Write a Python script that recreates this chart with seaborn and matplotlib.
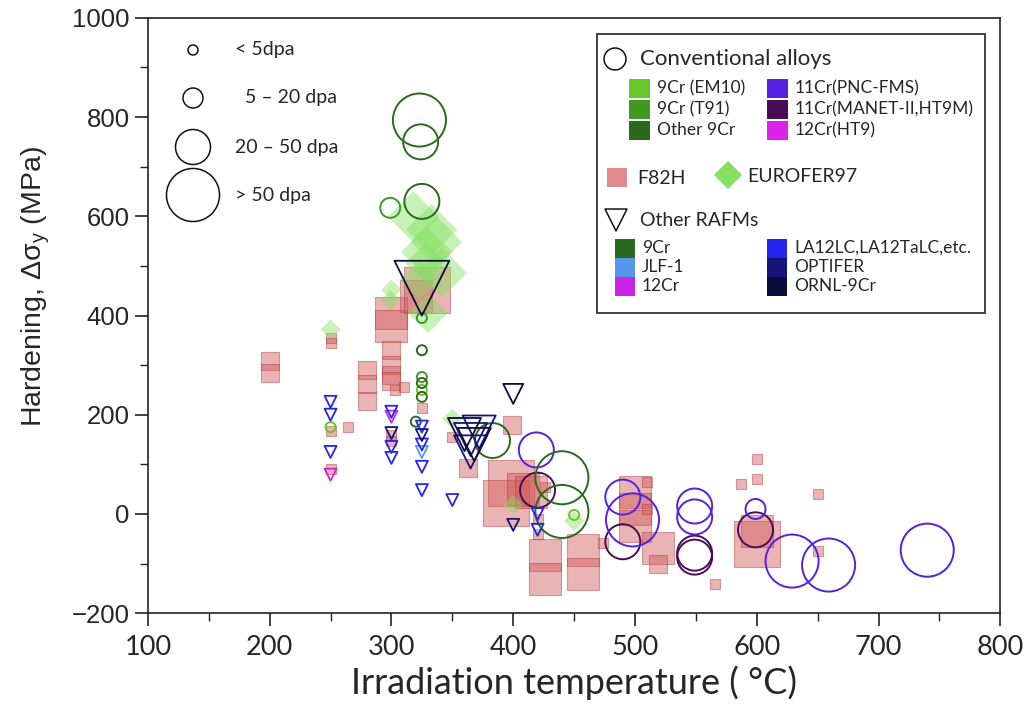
import numpy as np
import pandas as pd
import matplotlib.pyplot as plt
import seaborn as sns
from matplotlib.patches import Rectangle
from matplotlib.ticker import MultipleLocator
from matplotlib import font_manager

sns.set_style('ticks')
plt.rcParams['font.family'] = ['Liberation Sans', 'DejaVu Sans']

installed = {f.name for f in font_manager.fontManager.ttflist}
narrow = 'Liberation Sans Narrow' if 'Liberation Sans Narrow' in installed else 'Lato'

# ---- data ----
# conventional alloys (open circles)
circ_T = [323, 324, 325, 299, 325, 325, 325, 325, 325, 325, 320, 250,
          383, 419, 440, 440, 420, 450, 490, 498, 490, 549, 549, 549, 549,
          599, 599, 629, 659, 740]
circ_dH = [794, 750, 630, 617, 395, 330, 276, 264, 250, 236, 186, 175,
           148, 129, 73, 5, 48, -2, 34, -12, -56, 16, -6, -79, -87,
           10, -32, -95, -103, -73]
circ_dpa = ['>50', '20-50', '20-50', '5-20', '<5', '<5', '<5', '<5', '<5', '<5', '<5', '<5',
            '20-50', '20-50', '>50', '>50', '20-50', '<5', '20-50', '>50', '20-50', '20-50', '20-50', '20-50', '20-50',
            '5-20', '20-50', '>50', '>50', '>50']
circ_alloy = ['Other 9Cr', 'Other 9Cr', 'Other 9Cr', '9Cr (T91)', '9Cr (T91)', 'Other 9Cr', '9Cr (T91)',
              'Other 9Cr', '9Cr (EM10)', 'Other 9Cr', 'Other 9Cr', '9Cr (EM10)',
              'Other 9Cr', '11Cr(PNC-FMS)', 'Other 9Cr', 'Other 9Cr', '11Cr(MANET-II,HT9M)', '9Cr (EM10)',
              '11Cr(PNC-FMS)', '11Cr(PNC-FMS)', '11Cr(MANET-II,HT9M)', '11Cr(PNC-FMS)', '11Cr(PNC-FMS)',
              '11Cr(MANET-II,HT9M)', '11Cr(MANET-II,HT9M)', '11Cr(PNC-FMS)', '11Cr(MANET-II,HT9M)',
              '11Cr(PNC-FMS)', '11Cr(PNC-FMS)', '11Cr(PNC-FMS)']

# F82H (squares)
f82h_T = [200, 200, 250, 250, 250, 250, 264, 280, 280, 280,
          300, 300, 300, 300, 300, 300, 303, 300, 300, 310,
          325, 320, 329, 350, 363, 399, 398, 394, 408, 415,
          420, 420, 426, 426, 426, 457, 457, 474, 500, 500,
          500, 510, 510, 519, 519, 566, 587, 600, 600, 650,
          650, 600, 600]
f82h_dH = [308, 285, 355, 345, 168, 90, 175, 290, 262, 228,
           405, 378, 330, 300, 280, 268, 250, 160, 148, 255,
           214, 440, 452, 155, 93, 180, 62, 22, 50, 45,
           -10, -40, 55, -82, -132, -72, -122, -58, 45, 10,
           -25, 65, 10, -68, -100, -141, 60, 111, 71, 40,
           -74, -60, -35]
f82h_dpa = ['5-20', '5-20', '<5', '<5', '<5', '<5', '<5', '5-20', '5-20', '5-20',
            '20-50', '20-50', '5-20', '5-20', '5-20', '5-20', '<5', '<5', '<5', '<5',
            '<5', '20-50', '>50', '<5', '5-20', '5-20', '>50', '>50', '20-50', '20-50',
            '<5', '<5', '<5', '20-50', '20-50', '20-50', '20-50', '<5', '20-50', '20-50',
            '20-50', '<5', '<5', '20-50', '5-20', '<5', '<5', '<5', '<5', '<5',
            '<5', '>50', '20-50']

# EUROFER97 (diamonds)
euro_T = [318, 333, 337, 329, 328, 341, 323, 330, 300, 299, 250, 350, 450, 400]
euro_dH = [599, 573, 548, 528, 506, 486, 472, 405, 452, 431, 372, 192, -14, 18]
euro_dpa = ['>50', '>50', '>50', '>50', '20-50', '>50', '20-50', '20-50',
            '5-20', '5-20', '5-20', '5-20', '5-20', '5-20']

# other RAFMs (open down triangles)
rafm_T = [325, 400, 360, 365, 368, 365, 372,
          250, 250, 250, 250, 300, 300, 300, 300, 300,
          325, 325, 325, 325, 325, 325, 350, 400, 420, 420]
rafm_dH = [455, 242, 160, 150, 140, 125, 165,
           226, 200, 125, 79, 206, 196, 163, 135, 113,
           176, 159, 140, 125, 95, 48, 28, -22, 0, -32]
rafm_dpa = ['>50', '5-20', '20-50', '20-50', '20-50', '20-50', '20-50',
            '<5', '<5', '<5', '<5', '<5', '<5', '<5', '<5', '<5',
            '<5', '<5', '<5', '<5', '<5', '<5', '<5', '<5', '<5', '<5']
rafm_alloy = ['ORNL-9Cr', 'ORNL-9Cr', 'ORNL-9Cr', 'OPTIFER', 'ORNL-9Cr', 'OPTIFER', 'OPTIFER',
              'LA12LC,LA12TaLC,etc.', 'LA12LC,LA12TaLC,etc.', 'LA12LC,LA12TaLC,etc.', '12Cr',
              'LA12LC,LA12TaLC,etc.', '12Cr', 'OPTIFER', 'LA12LC,LA12TaLC,etc.', 'LA12LC,LA12TaLC,etc.',
              'LA12LC,LA12TaLC,etc.', 'OPTIFER', 'LA12LC,LA12TaLC,etc.', 'JLF-1', 'LA12LC,LA12TaLC,etc.',
              'LA12LC,LA12TaLC,etc.', 'LA12LC,LA12TaLC,etc.', 'OPTIFER', 'LA12LC,LA12TaLC,etc.',
              'LA12LC,LA12TaLC,etc.']

conv_colors = {'9Cr (EM10)': '#66c62a', '9Cr (T91)': '#3f9a22', 'Other 9Cr': '#2a6a1c',
               '11Cr(PNC-FMS)': '#5520e0', '11Cr(MANET-II,HT9M)': '#4a0c58', '12Cr(HT9)': '#dd22ee'}
rafm_colors = {'9Cr': '#2a6a1c', 'JLF-1': '#5596ee', '12Cr': '#cc22e6',
               'LA12LC,LA12TaLC,etc.': '#2424ee', 'OPTIFER': '#14147c', 'ORNL-9Cr': '#0c0c3c'}
f82h_color = '#d25a5a'
euro_color = '#84e060'

circle_sizes = {'<5': 52, '5-20': 207, '20-50': 635, '>50': 1459}
square_sizes = {'<5': 52, '5-20': 168, '20-50': 530, '>50': 1090}
diamond_sizes = {'<5': 26, '5-20': 104, '20-50': 415, '>50': 680}
tri_sizes = {'<5': 75, '5-20': 207, '20-50': 570, '>50': 1560}

circ_df = pd.DataFrame({'T': circ_T, 'dH': circ_dH, 'dpa': circ_dpa, 'alloy': circ_alloy})
f82h_df = pd.DataFrame({'T': f82h_T, 'dH': f82h_dH, 'dpa': f82h_dpa})
euro_df = pd.DataFrame({'T': euro_T, 'dH': euro_dH, 'dpa': euro_dpa})
rafm_df = pd.DataFrame({'T': rafm_T, 'dH': rafm_dH, 'dpa': rafm_dpa, 'alloy': rafm_alloy})

fig = plt.figure(figsize=(10.27, 7.13), dpi=100)
ax = fig.add_axes([0.144, 0.140, 0.830, 0.835])

sns.scatterplot(data=f82h_df, x='T', y='dH', size='dpa', sizes=square_sizes, marker='s',
                color=f82h_color, alpha=0.45, edgecolor='#b03a3a', linewidth=0.8,
                legend=False, ax=ax, zorder=2)
sns.scatterplot(data=euro_df, x='T', y='dH', size='dpa', sizes=diamond_sizes, marker='D',
                color=euro_color, alpha=0.45, edgecolor='none', linewidth=0,
                legend=False, ax=ax, zorder=3)
for name, grp in circ_df.groupby('alloy'):
    sns.scatterplot(data=grp, x='T', y='dH', size='dpa', sizes=circle_sizes, marker='o',
                    facecolor='none', edgecolor=conv_colors[name], linewidth=1.4,
                    legend=False, ax=ax, zorder=4)
for name, grp in rafm_df.groupby('alloy'):
    sns.scatterplot(data=grp, x='T', y='dH', size='dpa', sizes=tri_sizes, marker='v',
                    facecolor='none', edgecolor=rafm_colors[name], linewidth=1.3,
                    legend=False, ax=ax, zorder=5)

ax.set_xlim(100, 800)
ax.set_ylim(-200, 1000)
ax.xaxis.set_major_locator(MultipleLocator(100))
ax.xaxis.set_minor_locator(MultipleLocator(50))
ax.yaxis.set_major_locator(MultipleLocator(200))
ax.yaxis.set_minor_locator(MultipleLocator(100))
ax.tick_params(which='major', direction='out', length=9.5, width=1.2, color='#222')
ax.tick_params(which='minor', direction='out', length=6, width=1.0, color='#222')
ax.tick_params(axis='x', which='major', pad=6)
for sp in ax.spines.values():
    sp.set_visible(True)
    sp.set_linewidth(1.2)
    sp.set_color('#222')
for lab in ax.get_xticklabels():
    lab.set_fontfamily(narrow)
    lab.set_fontsize(21 if narrow != 'Lato' else 19.5)
for lab in ax.get_yticklabels():
    lab.set_fontsize(18.5)

ax.set_xlabel('Irradiation temperature ( °C)', fontfamily='Lato', fontsize=26, labelpad=4)
ax.set_ylabel('Hardening, Δσ$_\\mathregular{y}$ (MPa)', fontsize=20.5)
ax.yaxis.set_label_coords(-0.113, 0.548)

# ---- legends drawn in pixel coordinates ----
ov = fig.add_axes([0, 0, 1, 1], zorder=10)
ov.set_xlim(0, 1027)
ov.set_ylim(713, 0)
ov.axis('off')

# dose legend
dose_labels = ['< 5dpa', '5 – 20 dpa', '20 – 50 dpa', '> 50 dpa']
dose_keys = ['<5', '5-20', '20-50', '>50']
dose_y = [50, 98, 147, 195]
dose_tx = [235, 245, 235, 235]
for k, lab, yy, tx in zip(dose_keys, dose_labels, dose_y, dose_tx):
    ov.scatter([193], [yy], s=circle_sizes[k], facecolors='none', edgecolors='#111', linewidths=1.1)
    ov.text(tx, yy, lab, fontfamily='Lato', fontsize=14, va='center', ha='left')

# alloy legend
ov.add_patch(Rectangle((597, 34), 388, 279, facecolor='white', edgecolor='#333', lw=1.3))
ov.scatter([615], [59], s=250, facecolors='none', edgecolors='#111', linewidths=1.1)
ov.text(640, 59, 'Conventional alloys', fontfamily='Lato', fontsize=16, va='center')
conv_layout = [('9Cr (EM10)', 629, 88), ('9Cr (T91)', 629, 109), ('Other 9Cr', 629, 130),
               ('11Cr(PNC-FMS)', 767, 88), ('11Cr(MANET-II,HT9M)', 767, 109), ('12Cr(HT9)', 767, 130)]
for name, x0, yy in conv_layout:
    ov.add_patch(Rectangle((x0, yy - 9.5), 21, 19, color=conv_colors[name], lw=0))
    ov.text(x0 + 28, yy, name, fontfamily='Lato', fontsize=12.5, va='center')

ov.add_patch(Rectangle((607, 168), 20, 19, color=f82h_color, alpha=0.7, lw=0))
ov.text(637, 178, 'F82H', fontfamily='Lato', fontsize=14, va='center')
ov.scatter([728], [175], s=204, marker='D', color=euro_color, edgecolors='none')
ov.text(747, 176, 'EUROFER97', fontfamily='Lato', fontsize=14, va='center')

ov.scatter([616], [220], s=250, marker='v', facecolors='none', edgecolors='#111', linewidths=1.1)
ov.text(640, 220, 'Other RAFMs', fontfamily='Lato', fontsize=14, va='center')
rafm_layout = [('9Cr', 615, 248), ('JLF-1', 615, 267), ('12Cr', 615, 286),
               ('LA12LC,LA12TaLC,etc.', 767, 248), ('OPTIFER', 767, 267), ('ORNL-9Cr', 767, 286)]
for name, x0, yy in rafm_layout:
    ov.add_patch(Rectangle((x0, yy - 9.5), 20, 19, color=rafm_colors[name], lw=0))
    ov.text(x0 + 27, yy, name, fontfamily='Lato', fontsize=12.5, va='center')

fig.savefig('out.png', dpi=100)
